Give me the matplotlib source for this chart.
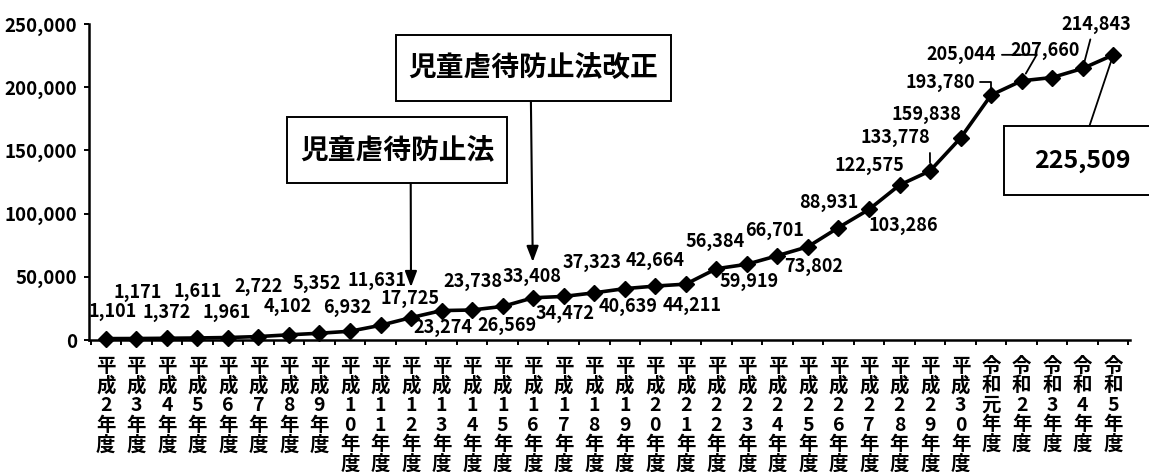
import matplotlib
matplotlib.use("Agg")
import matplotlib.pyplot as plt
from matplotlib.path import Path

plt.rcParams['font.family'] = ['Noto Sans CJK JP', 'DejaVu Sans']

# 児童相談所での児童虐待相談対応件数
categories = [
    "平成2年度", "平成3年度", "平成4年度", "平成5年度", "平成6年度",
    "平成7年度", "平成8年度", "平成9年度", "平成10年度", "平成11年度",
    "平成12年度", "平成13年度", "平成14年度", "平成15年度", "平成16年度",
    "平成17年度", "平成18年度", "平成19年度", "平成20年度", "平成21年度",
    "平成22年度", "平成23年度", "平成24年度", "平成25年度", "平成26年度",
    "平成27年度", "平成28年度", "平成29年度", "平成30年度",
    "令和元年度", "令和2年度", "令和3年度", "令和4年度", "令和5年度",
]
counts = [
    1101, 1171, 1372, 1611, 1961, 2722, 4102, 5352, 6932, 11631,
    17725, 23274, 23738, 26569, 33408, 34472, 37323, 40639, 42664, 44211,
    56384, 59919, 66701, 73802, 88931, 103286, 122575, 133778, 159838,
    193780, 205044, 207660, 214843, 225509,
]
law_names = ["児童虐待防止法", "児童虐待防止法改正"]
law_years = ["平成12年度", "平成16年度"]
y_ticks = [0, 50000, 100000, 150000, 200000, 250000]

# label placement (offsets in pixels from each point)
label_offsets = [
    (7, 27), (1, 46), (0, 26), (0, 46), (-1, 25.5), (0, 50), (-1, 28),
    (-2.5, 50), (-3, 24), (-3.6, 45), (-1, 19), (1, -17), (1, 28),
    (4, -19), (-1, 21), (1, -17), (-2, 30), (3, -18), (0, 26), (6, -21),
    (-1.5, 27), (2, -17), (-2.6, 25), (6, -20), (-10, 25), (34, -16),
    (-30, 20), (-35, 33), (-34, 23), (-51, 13), (-60, 26), (-7, 27.5),
    (14, 44), None,
]
# leader lines: index -> (relpos, connectionstyle, shrinkB in points)
leaders = {
    27: ((1.0, 0.0), "arc3", 6),
    29: ((1.0, 0.5), "angle,angleA=0,angleB=90,rad=0", 3.5),
    30: ((1.0, 0.5), "angle,angleA=0,angleB=60,rad=0", 6),
    32: ((0.43, 0.0), "arc3", 3.5),
}


def padded_box(padx, pady):
    def style(x0, y0, width, height, mutation_size):
        px = padx * mutation_size
        py = pady * mutation_size
        verts = [(x0 - px, y0 - py), (x0 + width + px, y0 - py),
                 (x0 + width + px, y0 + height + py),
                 (x0 - px, y0 + height + py), (x0 - px, y0 - py)]
        return Path(verts, closed=True)
    return style


fig = plt.figure(figsize=(11.49, 4.72), dpi=100)
ax = fig.add_axes([89 / 1149, 1 - 340 / 472, (1130 - 89) / 1149, 316 / 472])

x = list(range(len(categories)))
ax.plot(x, counts, color='black', lw=2.6, marker='D', ms=8,
        mfc='black', mec='black', mew=1, zorder=3, clip_on=False)

ax.set_xlim(-0.55, len(categories) - 0.45)
ax.set_ylim(0, 250000)

for side in ("top", "right"):
    ax.spines[side].set_visible(False)
for side in ("left", "bottom"):
    ax.spines[side].set_linewidth(1.8)

ax.set_yticks(y_ticks)
ax.set_yticklabels([f"{v:,}" for v in y_ticks], fontsize=13.5, fontweight='bold')
ax.tick_params(axis='y', direction='out', length=3.6, width=1.4, pad=5)

vertical = ["\n".join(c) for c in categories]
ax.set_xticks(x)
ax.set_xticklabels(vertical, fontsize=14, fontweight='bold', linespacing=1.03,
                   va='top', ha='center')
ax.set_xticks([i - 0.5 for i in range(len(categories) + 1)], minor=True)
ax.tick_params(axis='x', which='major', length=0, pad=12)
ax.tick_params(axis='x', which='minor', direction='out', length=3.6, width=1.4)

# value labels
for i, (v, off) in enumerate(zip(counts, label_offsets)):
    if off is None:
        continue
    kw = {}
    if i in leaders:
        relpos, cstyle, shrink_b = leaders[i]
        kw['arrowprops'] = dict(arrowstyle='-', color='black', lw=1.3,
                                relpos=relpos, connectionstyle=cstyle,
                                shrinkA=2, shrinkB=shrink_b)
    ax.annotate(f"{v:,}", xy=(i, v), xytext=off, textcoords='offset pixels',
                ha='center', va='center', fontsize=13, fontweight='bold',
                zorder=4, **kw)

# latest value in a framed box
last = len(counts) - 1
ax.annotate(f"{counts[last]:,}", xy=(last, counts[last]), xytext=(-30.5, -106),
            textcoords='offset pixels', ha='center', va='center', fontsize=18,
            fontweight='bold',
            bbox=dict(boxstyle=padded_box(1.2, 0.9), fc='white', ec='black', lw=1.4),
            arrowprops=dict(arrowstyle='-', color='black', lw=1.3,
                            relpos=(0.49, 1.0), shrinkA=0, shrinkB=0),
            annotation_clip=False, zorder=5)

# law enactment / amendment markers
law_box_offsets = [(-14, 167.6), (0, 230)]
law_relx = [0.57, 0.49]
law_shrink = [22, 25.8]
for name, year, off, rx, sb in zip(law_names, law_years, law_box_offsets, law_relx, law_shrink):
    i = categories.index(year)
    ax.annotate(name, xy=(i, counts[i]), xytext=off, textcoords='offset pixels',
                ha='center', va='center', fontsize=20, fontweight='bold',
                bbox=dict(boxstyle=padded_box(0.45, 0.68), fc='white', ec='black', lw=1.4),
                arrowprops=dict(arrowstyle='-|>,head_length=0.95,head_width=0.36',
                                mutation_scale=10, color='black', lw=1.5,
                                relpos=(rx, 0.0), shrinkA=0, shrinkB=sb),
                zorder=5)

fig.savefig("out.png", dpi=100)
